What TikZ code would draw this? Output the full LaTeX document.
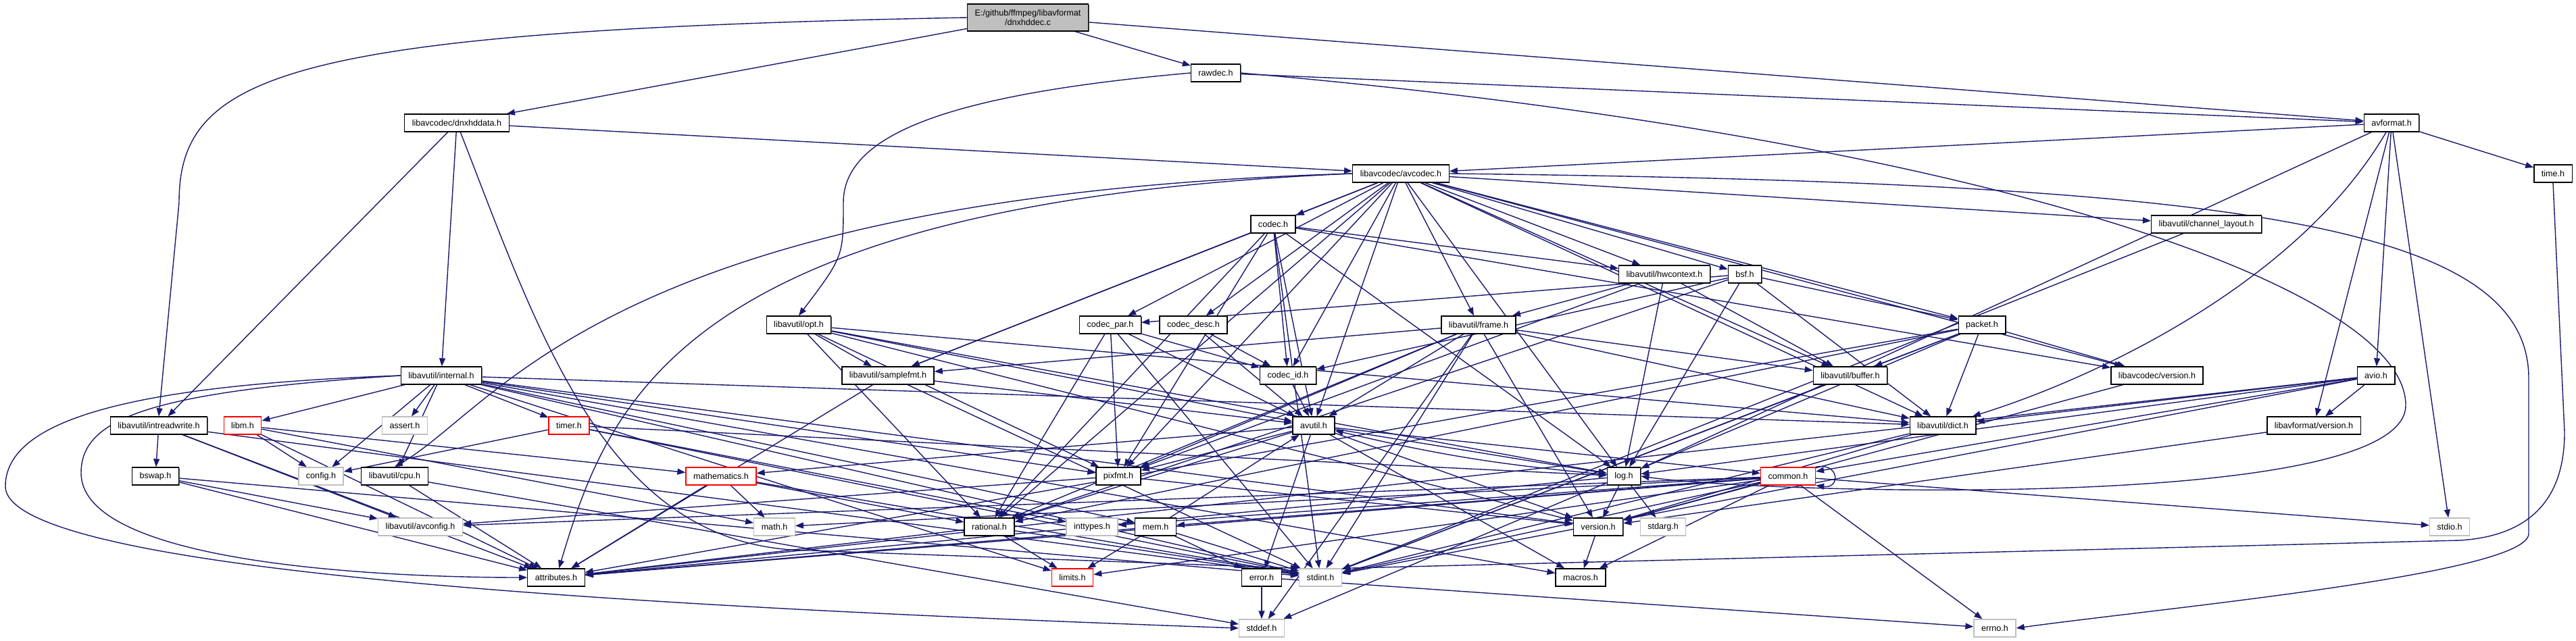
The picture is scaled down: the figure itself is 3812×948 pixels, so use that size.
\documentclass[tikz,border=0pt]{standalone}
\usepackage{fontspec}
\setmainfont{Liberation Sans}
\usetikzlibrary{arrows.meta,shadows}

\definecolor{incblue}{HTML}{191970}
\definecolor{sysgray}{HTML}{BFBFBF}
\definecolor{srcgray}{HTML}{BFBFBF}

\pgfdeclarelayer{bg}
\pgfsetlayers{bg,main}

\begin{document}
\begin{tikzpicture}[
x=1pt,y=-1pt,
every node/.style={
draw,
fill=white,
minimum height=26pt,
inner xsep=11pt,
inner ysep=0pt,
line width=1.3pt,
font=\fontsize{12.6}{14}\selectfont
},
hdr/.style={drop shadow={shadow xshift=1.2pt,shadow yshift=-1.4pt,fill=black!65,opacity=1}},
sys/.style={draw=sysgray},
trunc/.style={draw=red},
inc/.style={->,color=incblue,line width=1.4pt},
>={Triangle[length=12pt,width=9pt]}
]
\useasboundingbox (0,0) rectangle (3812,948);

% file itself
\node[hdr,fill=srcgray,align=center,minimum height=40pt] (main) at (1521,26)
{E:/github/ffmpeg/libavformat\\/dnxhddec.c};

% headers, row by row
\node[hdr] (rawdec) at (1799,108) {rawdec.h};
\node[hdr] (dnxdata) at (676,182) {libavcodec/dnxhddata.h};
\node[hdr] (avformat) at (3539,182) {avformat.h};
\node[hdr] (avcodec) at (2073,257) {libavcodec/avcodec.h};
\node[hdr] (timeh) at (3778,257) {time.h};
\node[hdr] (codec) at (1884,332) {codec.h};
\node[hdr] (chlayout) at (3265,332) {libavutil/channel\_layout.h};
\node[hdr] (hwctx) at (2463,406) {libavutil/hwcontext.h};
\node[hdr] (bsf) at (2582,406) {bsf.h};
\node[hdr] (opt) at (1182,481) {libavutil/opt.h};
\node[hdr] (codecpar) at (1643,481) {codec\_par.h};
\node[hdr] (codecdesc) at (1766,481) {codec\_desc.h};
\node[hdr] (frame) at (2188,481) {libavutil/frame.h};
\node[hdr] (packet) at (2933,481) {packet.h};
\node[hdr] (internal) at (653,556) {libavutil/internal.h};
\node[hdr] (samplefmt) at (1314,556) {libavutil/samplefmt.h};
\node[hdr] (codecid) at (1906,556) {codec\_id.h};
\node[hdr] (buffer) at (2738,556) {libavutil/buffer.h};
\node[hdr] (lavcver) at (3192,556) {libavcodec/version.h};
\node[hdr] (avio) at (3516,556) {avio.h};
\node[hdr] (intrw) at (235,630) {libavutil/intreadwrite.h};
\node[trunc] (libm) at (359,630) {libm.h};
\node[sys] (assert) at (599,630) {assert.h};
\node[trunc] (timer) at (842,630) {timer.h};
\node[hdr] (avutil) at (1944,630) {avutil.h};
\node[hdr] (dict) at (2875,630) {libavutil/dict.h};
\node[hdr] (lavfver) at (3424,630) {libavformat/version.h};
\node[hdr] (bswap) at (230,705) {bswap.h};
\node[sys] (config) at (475,705) {config.h};
\node[hdr] (cpu) at (584,705) {libavutil/cpu.h};
\node[trunc] (mathem) at (1067,705) {mathematics.h};
\node[hdr] (pixfmt) at (1655,705) {pixfmt.h};
\node[hdr] (logh) at (2403,705) {log.h};
\node[trunc] (common) at (2646,705) {common.h};
\node[sys] (avconfig) at (622,780) {libavutil/avconfig.h};
\node[sys] (mathh) at (1146,780) {math.h};
\node[hdr] (rational) at (1464,780) {rational.h};
\node[sys] (inttypes) at (1616,780) {inttypes.h};
\node[hdr] (mem) at (1710,780) {mem.h};
\node[hdr] (version) at (2365,780) {version.h};
\node[sys] (stdarg) at (2461,780) {stdarg.h};
\node[sys] (stdio) at (3625,780) {stdio.h};
\node[hdr] (attributes) at (823,855) {attributes.h};
\node[trunc] (limits) at (1587,855) {limits.h};
\node[hdr] (error) at (1867,855) {error.h};
\node[sys] (stdint) at (1954,855) {stdint.h};
\node[hdr] (macros) at (2339,855) {macros.h};
\node[sys] (stddef) at (1867,930) {stddef.h};
\node[sys] (errno) at (2952,930) {errno.h};

\begin{pgfonlayer}{bg}
\draw[inc] (main) edge (rawdec) edge (dnxdata) edge (avformat);
\draw[inc] (main.west) .. controls (420,45) and (265,110) .. (265,300) -- (intrw.north);
\draw[inc] (rawdec) edge (avformat);
\draw[inc] (rawdec.west) .. controls (1400,140) and (1248,200) .. (1248,300) .. controls (1248,380) .. (opt.north);
\draw[inc] (rawdec.east) .. controls (2900,200) and (3560,420) .. (3560,600) .. controls (3560,760) and (2600,730) .. (logh.east);
\draw[inc] (dnxdata) edge (avcodec) edge (intrw) edge (internal);
\draw[inc] (dnxdata) .. controls (800,500) and (900,815) .. (1200,815) -- (stdint.north west);
\draw[inc] (avformat) edge (timeh) edge (stdio) edge (avcodec) edge (logh) edge (avio) edge (lavfver);
\draw[inc] (avformat) .. controls (3400,420) and (3100,560) .. (dict);
\draw[inc] (avcodec) edge (samplefmt) edge (avutil) edge (buffer)
  edge (chlayout) edge (dict) edge (frame) edge (hwctx) edge (logh) edge (pixfmt) edge (rational)
  edge (bsf) edge (codec) edge (codecdesc) edge (codecpar) edge (codecid) edge (packet) edge (lavcver);
\draw[inc] (avcodec.west) .. controls (1000,300) and (900,600) .. (attributes);
\draw[inc] (avcodec.west) .. controls (900,290) and (740,600) .. (cpu.north);
\draw[inc] (avcodec.east) .. controls (3300,270) and (3742,330) .. (3742,560) -- (3742,790) .. controls (3742,850) and (3200,900) .. (errno.east);
\draw[inc] (timeh.south) -- (3795,640) .. controls (3795,760) and (3720,795) .. (3640,800) -- (stdint.north east);
\draw[inc] (codec) edge (stdint) edge (avutil) edge (hwctx) edge (logh) edge (pixfmt) edge (rational)
  edge (samplefmt) edge (codecid) edge (lavcver);
\draw[inc] (chlayout) edge (stdint);
\draw[inc] (hwctx) edge (buffer) edge (frame) edge (logh) edge (pixfmt);
\draw[inc] (bsf) edge (dict) edge (logh) edge (rational) edge (codecid) edge (codecpar) edge (packet);
\draw[inc] (opt) edge (avutil) edge (dict) edge (logh) edge (pixfmt) edge (rational) edge (samplefmt) edge (version);
\draw[inc] (codecpar) edge (stdint) edge (avutil) edge (rational) edge (pixfmt) edge (codecid);
\draw[inc] (codecdesc) edge (avutil) edge (codecid);
\draw[inc] (frame) edge (stddef) edge (stdint) edge (avutil) edge (buffer) edge (dict) edge (rational)
  edge (samplefmt) edge (pixfmt) edge (version);
\draw[inc] (packet) edge (stddef) edge (stdint) edge (attributes) edge (buffer) edge (dict) edge (rational) edge (lavcver);
\draw[inc] (internal) edge (limits) edge (stdint) edge (assert) edge (config) edge (timer) edge (cpu)
  edge (dict) edge (macros) edge (mem) edge (pixfmt) edge (version) edge (libm);
\draw[inc] (internal.west) .. controls (200,570) and (8,620) .. (8,720) .. controls (8,850) and (1000,900) .. (stddef.west);
\draw[inc] (internal.west) .. controls (220,580) and (120,620) .. (120,700) .. controls (120,840) and (600,855) .. (attributes.west);
\draw[inc] (samplefmt) edge (stdint) edge (avutil) edge (attributes);
\draw[inc] (codecid) edge (avutil);
\draw[inc] (buffer) edge (stdint);
\draw[inc] (lavcver) edge (version);
\draw[inc] (avio) edge (stdint) edge (attributes) edge (common) edge (dict) edge (logh) edge (lavfver);
\draw[inc] (intrw) edge (stdint) edge (avconfig) edge (attributes) edge (bswap);
\draw[inc] (libm) edge (mathh) edge (config) edge (attributes) edge (mathem);
\draw[inc] (timer) edge (config) edge (inttypes) edge (stdint) edge (logh);
\draw[inc] (avutil) edge (common) edge (error) edge (rational) edge (version) edge (macros) edge (mathem)
  edge (logh) edge (pixfmt);
\draw[inc] (dict) edge (stdint) edge (version);
\draw[inc] (lavfver) edge (version);
\draw[inc] (bswap) edge (stdint) edge (avconfig) edge (attributes);
\draw[inc] (cpu) edge (attributes) edge (stddef);
\draw[inc] (mathem) edge (stdint) edge (mathh) edge (attributes) edge (rational);
\draw[inc] (pixfmt) edge (avconfig) edge (version);
\draw[inc] (logh) edge (stdarg) edge[bend left=4] (avutil) edge (attributes) edge (version);
\draw[inc] (common) edge (errno) edge (inttypes) edge (limits) edge (mathh) edge (stdint) edge (stdio)
  edge (attributes) edge (macros) edge (version) edge (avconfig) edge (mem);
\draw[inc] (common.north east) .. controls (2722,684) and (2724,724) .. (common.south east);
\draw[inc] (rational) edge (stdint) edge (limits) edge (attributes);
\draw[inc] (mem) edge (limits) edge (stdint) edge (attributes) edge (error) edge (avutil);
\draw[inc] (version) edge (macros);
\draw[inc] (error) edge (errno) edge (stddef);
\end{pgfonlayer}

\end{tikzpicture}
\end{document}
